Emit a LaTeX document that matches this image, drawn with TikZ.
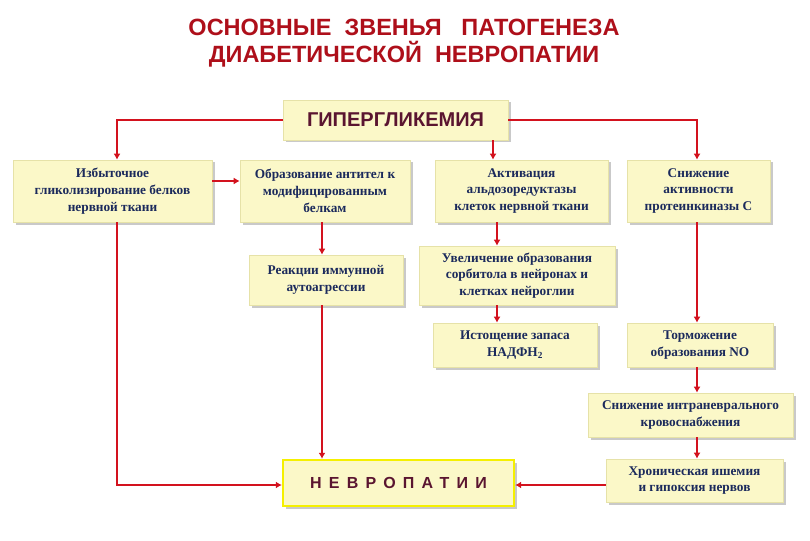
\documentclass[tikz,border=0pt]{standalone}
\usepackage{fontspec}
\setmainfont{Liberation Serif}
\newfontfamily\headfont{Liberation Sans}
\newfontfamily\spacedfont[LetterSpace=45]{Liberation Sans}
\usetikzlibrary{shadows,arrows.meta}
\definecolor{boxfill}{HTML}{FBF8C8}
\definecolor{boxline}{HTML}{E6E2A8}
\definecolor{navy}{HTML}{1B2A5C}
\definecolor{maroon}{HTML}{5A1530}
\definecolor{titlered}{HTML}{AE0F1A}
\definecolor{arrred}{HTML}{D3121E}
\definecolor{brightyellow}{HTML}{F5F000}
\tikzset{
  box/.style={draw=boxline, line width=0.6pt, fill=boxfill, align=center,
    inner sep=2pt, font=\bfseries\fontsize{13.3}{16.8}\selectfont, text=navy,
    drop shadow={shadow xshift=2.5pt, shadow yshift=-2.5pt, fill=black!35, opacity=0.6}},
  arr/.style={draw=arrred, line width=2.7pt, -{Latex[length=6pt,width=7pt]}},
  ln/.style={draw=arrred, line width=2.7pt}
}
\begin{document}
\begin{tikzpicture}[x=1pt,y=-1pt]
\fill[white] (0,0) rectangle (810,540);
\useasboundingbox (0,0) rectangle (810,540);
% title
\node[font=\headfont\bfseries\fontsize{23.5}{27}\selectfont, text=titlered, align=center] (title) at (404,43)
  {ОСНОВНЫЕ\ \ ЗВЕНЬЯ\ \ \ ПАТОГЕНЕЗА\\ДИАБЕТИЧЕСКОЙ\ \ НЕВРОПАТИИ};
% boxes
\node[box, minimum width=225pt, minimum height=40pt, font=\headfont\bfseries\fontsize{20}{24}\selectfont, text=maroon] (hyper) at (395.5,120) {ГИПЕРГЛИКЕМИЯ};
\node[box, minimum width=199pt, minimum height=62pt] (b1) at (112.5,191) {Избыточное\\гликолизирование белков\\нервной ткани};
\node[box, minimum width=170pt, minimum height=62pt] (b2) at (325,191) {Образование антител к\\модифицированным\\белкам};
\node[box, minimum width=173pt, minimum height=62pt] (b3) at (521.5,191) {Активация\\альдозоредуктазы\\клеток нервной ткани};
\node[box, minimum width=143pt, minimum height=62pt] (b4) at (698.5,191) {Снижение\\активности\\протеинкиназы С};
\node[box, minimum width=154pt, minimum height=50pt] (immun) at (326,280) {Реакции иммунной\\аутоагрессии};
\node[box, minimum width=196pt, minimum height=59pt] (sorb) at (517,275.5) {Увеличение образования\\сорбитола в нейронах и\\клетках нейроглии};
\node[box, minimum width=164pt, minimum height=44pt] (nadf) at (515,345) {Истощение запаса\\НАДФН\textsubscript{2}};
\node[box, minimum width=146pt, minimum height=44pt] (no) at (700,345) {Торможение\\образования NO};
\node[box, minimum width=205pt, minimum height=44pt] (blood) at (690.5,415) {Снижение интраневрального\\кровоснабжения};
\node[box, minimum width=177pt, minimum height=43pt] (isch) at (694.5,480.5) {Хроническая ишемия\\и гипоксия нервов};
\node[box, draw=brightyellow, line width=2.4pt, minimum width=231pt, minimum height=46pt, font=\spacedfont\bfseries\fontsize{16}{19}\selectfont, text=maroon] (neuro) at (398.5,483) {НЕВРОПАТИИ};
% connectors
\draw[arr] (hyper.west) -| (b1.north -| 117,0);
\draw[arr] (hyper.east) -| (b4.north -| 697,0);
\draw[arr] (hyper.south -| 493,0) -- (b3.north -| 493,0);
\draw[arr] (b1.east |- 0,181) -- (b2.west |- 0,181);
\draw[arr] (b2.south -| 322,0) -- (immun.north -| 322,0);
\draw[arr] (immun.south -| 322,0) -- (neuro.north -| 322,0);
\draw[arr] (b1.south -| 117,0) |- (neuro.west |- 0,485);
\draw[arr] (b3.south -| 497,0) -- (sorb.north -| 497,0);
\draw[arr] (sorb.south -| 497,0) -- (nadf.north -| 497,0);
\draw[arr] (b4.south -| 697,0) -- (no.north -| 697,0);
\draw[arr] (no.south -| 697,0) -- (blood.north -| 697,0);
\draw[arr] (blood.south -| 697,0) -- (isch.north -| 697,0);
\draw[arr] (isch.west |- 0,485) -- (neuro.east |- 0,485);
\end{tikzpicture}
\end{document}
